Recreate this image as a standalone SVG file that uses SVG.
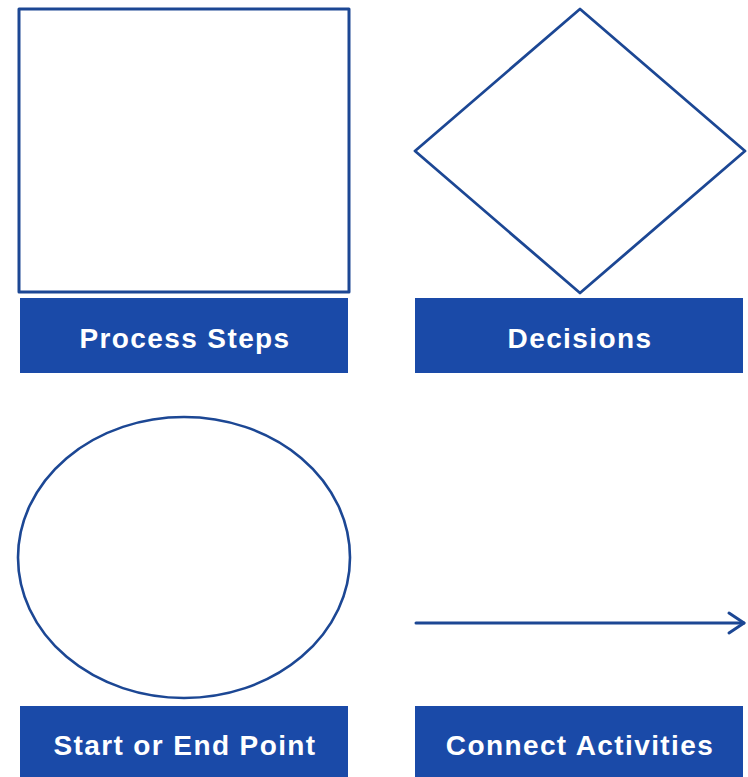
<svg xmlns="http://www.w3.org/2000/svg" width="748" height="777" viewBox="0 0 748 777">
<style>
.shape{fill:#ffffff;stroke:#1c4794;stroke-linejoin:round}
.label{fill:#1a4aa8}
.txt{font-family:"Liberation Sans",Arial,sans-serif;font-weight:bold;font-size:28px;fill:#ffffff;text-anchor:middle;letter-spacing:1.4px}
.conn{stroke:#1c4794;stroke-width:3;fill:none;stroke-linecap:round;stroke-linejoin:round}
</style>
<rect width="748" height="777" fill="#ffffff"/>
<g id="process">
<rect class="shape" x="19" y="9" width="330" height="283" stroke-width="3"/>
<rect class="label" x="20" y="298" width="328" height="75"/>
<text class="txt" x="185" y="348">Process Steps</text>
</g>
<g id="decision">
<polygon class="shape" points="580,9 745,151 580,293 415,151" stroke-width="2.8"/>
<rect class="label" x="415" y="298" width="328" height="75"/>
<text class="txt" x="580" y="348">Decisions</text>
</g>
<g id="startend">
<ellipse class="shape" cx="184" cy="557.5" rx="166" ry="140.5" stroke-width="2.6"/>
<rect class="label" x="20" y="706" width="328" height="71"/>
<text class="txt" x="185" y="755">Start or End Point</text>
</g>
<g id="connect">
<rect class="label" x="415" y="706" width="328" height="71"/>
<text class="txt" x="580" y="755">Connect Activities</text>
</g>
<g id="connectors">
<line class="conn" x1="416" y1="623" x2="744" y2="623"/>
<polyline class="conn" points="729,613 744,623 729,633"/>
</g>
</svg>
